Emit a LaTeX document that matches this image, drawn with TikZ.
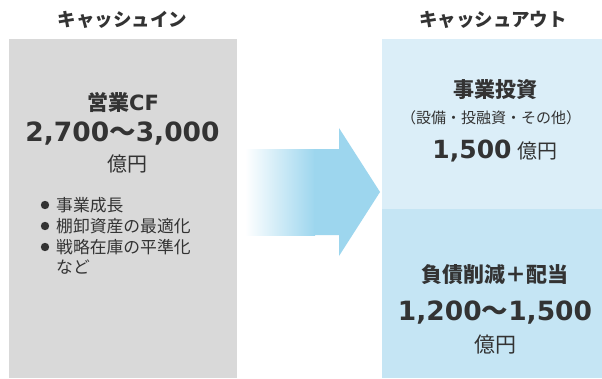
\documentclass[tikz,border=0pt]{standalone}
\usepackage{fontspec}
\setmainfont{Noto Sans CJK JP}
\newfontfamily\dv{DejaVu Sans}
\definecolor{ingray}{HTML}{D9D9D9}
\definecolor{outtop}{HTML}{DBEEF8}
\definecolor{outbot}{HTML}{C5E5F4}
\definecolor{arrowblue}{HTML}{9DD6EE}
\definecolor{txt}{HTML}{333333}
\newcommand\fs[1]{\fontsize{#1}{#1}\selectfont}
\tikzset{
  lbl/.style={inner sep=0pt, text=txt},
  bul/.style={fill=txt},
}
\begin{document}
\begin{tikzpicture}[x=1pt,y=-1pt]
\useasboundingbox (0,0) rectangle (602,378);
\fill[white] (0,0) rectangle (602,378);
% boxes
\fill[ingray] (9,39) rectangle (237,378);
\fill[outtop] (382,39) rectangle (602,209);
\fill[outbot] (382,209) rectangle (602,378);
% arrow
\shade[left color=white, right color=arrowblue] (245,149) rectangle (315,235);
\fill[arrowblue] (314,149) -- (339,149) -- (339,128) -- (380,192) -- (339,256) -- (339,235) -- (314,235) -- cycle;
% titles
\node[lbl] (tin) at (122.5,20) {\fs{18.5}\bfseries キャッシュイン};
\node[lbl] (tout) at (493,20) {\fs{18.5}\bfseries キャッシュアウト};
% left
\node[lbl] (cfl) at (123,102.5) {\fs{21}\bfseries 営業{\dv CF}};
\node[lbl, anchor=base] (cfn) at (122.5,141.7) {\fs{26.5}\bfseries{\dv 2,700}～{\dv 3,000}};
\node[lbl] (cfu) at (127.5,164) {\fs{20}億円};
\node[lbl, anchor=west] (b1) at (56,205) {\fs{16.8}事業成長};
\node[lbl, anchor=west] (b2) at (56,226) {\fs{16.8}棚卸資産の最適化};
\node[lbl, anchor=west] (b3) at (56,247) {\fs{16.8}戦略在庫の平準化};
\node[lbl, anchor=west] (b4) at (56,267) {\fs{16.8}など};
\fill[bul] (45,205) circle (4.2);
\fill[bul] (45,226) circle (4.2);
\fill[bul] (45,247) circle (4.2);
% right top
\node[lbl] (inv) at (495,90) {\fs{21}\bfseries 事業投資};
\node[lbl] (invd) at (491,118) {\fs{15}（設備・投融資・その他）};
\node[lbl, anchor=base] (invn) at (495,158.3) {{\fs{25}\bfseries\dv 1,500}\hspace{6pt}{\fs{20}億円}};
% right bottom
\node[lbl] (dbt) at (495,275) {\fs{21}\bfseries 負債削減＋配当};
\node[lbl, anchor=base] (dbtn) at (495,320) {\fs{26.5}\bfseries{\dv 1,200}～{\dv 1,500}};
\node[lbl] (dbtu) at (495,345) {\fs{21}億円};
\end{tikzpicture}
\end{document}
